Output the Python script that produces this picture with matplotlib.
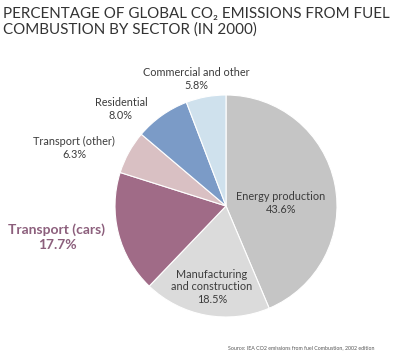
import matplotlib.pyplot as plt

sectors = ['Energy production', 'Manufacturing\nand construction', 'Transport (cars)',
           'Transport (other)', 'Residential', 'Commercial and other']
shares = [43.6, 18.5, 17.7, 6.3, 8.0, 5.8]
colors = ['#c5c5c5', '#dbdbdb', '#a06b87', '#d9c0c3', '#7b9bc7', '#cfe1ed']

# label anchor points in pixels (x, y from top)
label_pos = [(281, 203), (212, 287), (57, 237), (74, 148), (121, 109), (196, 79)]

plt.rcParams['font.family'] = ['Lato', 'DejaVu Sans']

fig = plt.figure(figsize=(4.09, 3.54), dpi=100)
W, H = 409, 354
cx, cy, r = 226, 206, 111
ax = fig.add_axes([(cx - r) / W, 1 - (cy + r) / H, 2 * r / W, 2 * r / H])
ax.pie(shares, colors=colors, startangle=90, counterclock=False,
       wedgeprops=dict(edgecolor='white', linewidth=0.8))
ax.set_aspect('auto')
ax.set_xlim(-1, 1)
ax.set_ylim(-1, 1)

fig.text(3 / W, 1 - 7 / H, 'PERCENTAGE OF GLOBAL CO\u2082 EMISSIONS FROM FUEL\nCOMBUSTION BY SECTOR (IN 2000)',
         ha='left', va='top', fontsize=10.9, color='#333333', linespacing=1.1)

for name, val, (x, y) in zip(sectors, shares, label_pos):
    if name == 'Transport (cars)':
        fig.text(x / W, 1 - y / H, f'{name}\n{val}%', ha='center', va='center',
                 fontsize=10, color='#8c5f7c', fontweight='bold', linespacing=1.25)
    else:
        fig.text(x / W, 1 - y / H, f'{name}\n{val}%', ha='center', va='center',
                 fontsize=7.8, color='#3c3c3c', linespacing=1.2)

fig.text(375 / W, 1 - 348 / H, 'Source: IEA CO2 emissions from fuel Combustion, 2002 edition',
         ha='right', va='center', fontsize=3.8, color='#555555')

fig.savefig('out.png', dpi=100)
